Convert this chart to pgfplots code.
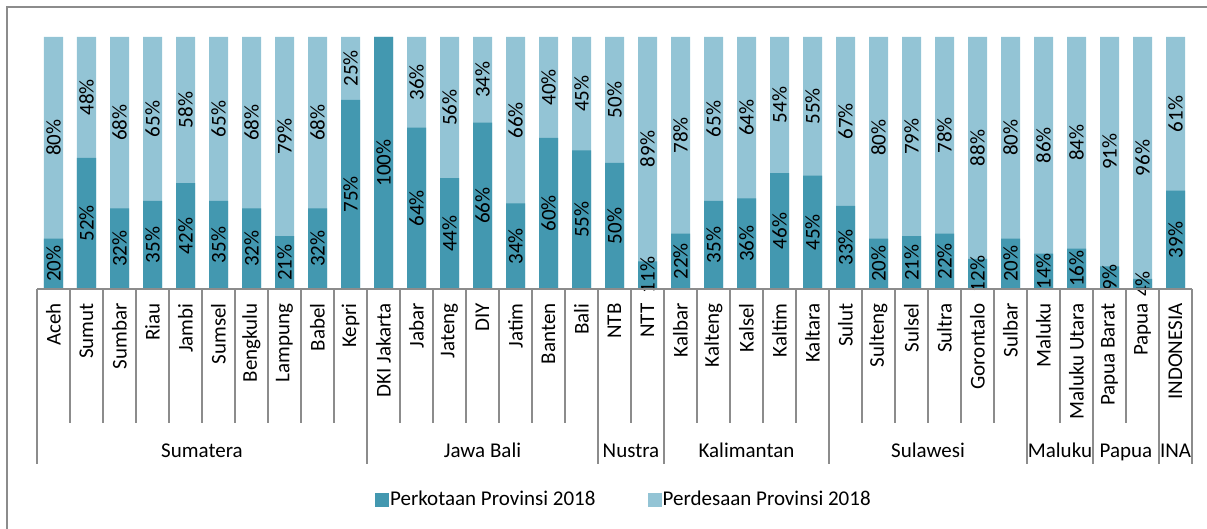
\documentclass[border=0pt]{standalone}
\usepackage{pgfplots}
\pgfplotsset{compat=1.18}
\usepackage{pgfplotstable}
\usepackage{fontspec}
\setmainfont{Carlito}
\definecolor{cdark}{RGB}{67,152,176}
\definecolor{clight}{RGB}{147,196,213}
\definecolor{cgrid}{RGB}{140,140,140}
\pgfplotstableread{
u r
20 80
52 48
32 68
35 65
42 58
35 65
32 68
21 79
32 68
75 25
100 0
64 36
44 56
66 34
34 66
60 40
55 45
50 50
11 89
22 78
35 65
36 64
46 54
45 55
33 67
20 80
21 79
22 78
12 88
20 80
14 86
16 84
9 91
4 96
39 61
}\data
\newcommand\lfont{\fontsize{10.5}{12}\selectfont}
\begin{document}
\begin{tikzpicture}[x=0.5pt,y=0.5pt]
\useasboundingbox (0,0) rectangle (1207,529);
\draw[cgrid, line width=0.6pt] (7,0) -- (7,522) -- (1207,522);
\begin{axis}[
  at={(18.5pt,120pt)}, anchor=south west,
  scale only axis, width=577.5pt, height=126pt,
  xmin=-0.5, xmax=34.5, ymin=0, ymax=100,
  axis line style={draw=none},
  ytick=\empty,
  xtick={0,...,34},
  xtick style={draw=none},
  major tick length=0pt,
  xticklabels={Aceh,Sumut,Sumbar,Riau,Jambi,Sumsel,Bengkulu,Lampung,Babel,Kepri,{DKI Jakarta},Jabar,Jateng,DIY,Jatim,Banten,Bali,NTB,NTT,Kalbar,Kalteng,Kalsel,Kaltim,Kaltara,Sulut,Sulteng,Sulsel,Sultra,Gorontalo,Sulbar,Maluku,{Maluku Utara},{Papua Barat},Papua,INDONESIA},
  xticklabel style={font=\lfont, yshift=-7pt, rotate=90, anchor=east, inner sep=0pt},
  clip=false,
  legend columns=2,
  legend cell align=left,
  legend style={draw=none, fill=none, at={(0.5078,-0.837)}, anchor=center, font=\lfont,
    nodes={inner sep=0.6pt},
    /tikz/every even column/.append style={column sep=25.5pt}},
  every node near coord/.append style={font=\lfont, rotate=90, anchor=center, text=black, inner sep=0pt},
]
\addplot[ybar, bar width=9.5pt, bar shift=0pt, fill=clight, draw=none, forget plot]
  table[x expr=\coordindex, y expr=\thisrow{u}+\thisrow{r}] {\data};
\addplot[ybar, bar width=9.5pt, bar shift=0pt, fill=cdark, draw=none, forget plot]
  table[x expr=\coordindex, y=u] {\data};
\addplot[draw=none, mark=none, forget plot, point meta=explicit symbolic,
  nodes near coords={\pgfplotspointmeta\%}]
  table[x expr=\coordindex, y expr=\thisrow{u}/2, meta=u] {\data};
\addplot[draw=none, mark=none, forget plot, point meta=explicit symbolic,
  restrict y to domain=0:99.5,
  nodes near coords={\pgfplotspointmeta\%}]
  table[x expr=\coordindex, y expr=\thisrow{u}+\thisrow{r}/2, meta=r] {\data};
\addlegendimage{legend image code/.code={\fill[cdark] (0pt,-3.3pt) rectangle (6.5pt,3.3pt);}}
\addlegendentry{Perkotaan Provinsi 2018}
\addlegendimage{legend image code/.code={\fill[clight] (0pt,-3.3pt) rectangle (6.5pt,3.3pt);}}
\addlegendentry{Perdesaan Provinsi 2018}
\end{axis}
\draw[cgrid, line width=0.6pt] (37,240) -- (1192,240);
\foreach \k in {1,...,9,11,12,13,14,15,16,18,20,21,22,23,25,26,27,28,29,31,33}
  \draw[cgrid, line width=0.6pt] ({37+33*\k},240) -- ({37+33*\k},106);
\foreach \k in {0,10,17,19,24,30,32,34,35}
  \draw[cgrid, line width=0.6pt] ({37+33*\k},240) -- ({37+33*\k},65);
\foreach \xc/\t in {202/Sumatera,482.5/Jawa Bali,631/Nustra,746.5/Kalimantan,928/Sulawesi,1060/Maluku,1126/Papua,1175.5/INA}
  \node[font=\lfont, anchor=base, inner sep=0pt] at (\xc,71) {\t};
\end{tikzpicture}
\end{document}
